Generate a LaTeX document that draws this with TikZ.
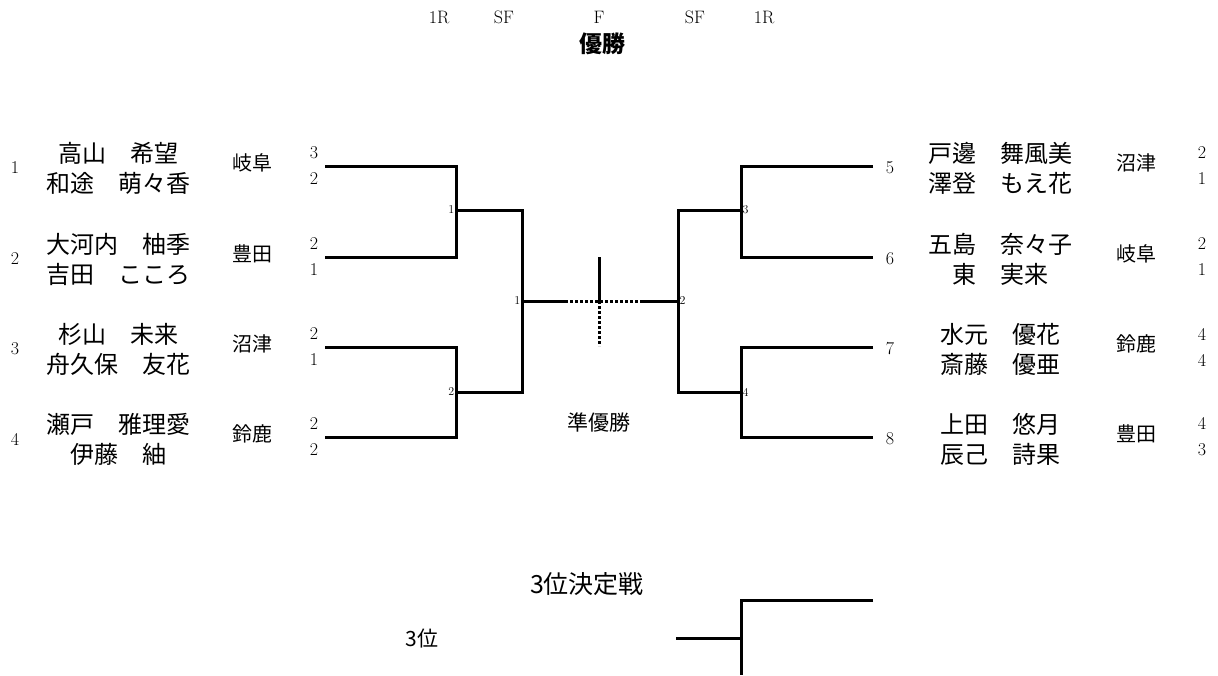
\documentclass[tikz,border=0pt]{standalone}
\usepackage{fontspec}
\newfontfamily\cjk{Noto Sans CJK JP}
\begin{document}
\begin{tikzpicture}[x=1pt, y=-1pt,
    bline/.style={line width=3pt},
    bdots/.style={line width=3pt, dash pattern=on 3pt off 2pt},
    plname/.style={font=\cjk\fontsize{24}{30}\selectfont, align=center},
    teamname/.style={font=\cjk\fontsize{20}{21}\selectfont},
    seedno/.style={font=\fontsize{18}{20}\selectfont},
    scoreno/.style={font=\fontsize{18}{26}\selectfont, align=center},
    matchno/.style={font=\fontsize{12}{13}\selectfont, inner sep=1.5pt},
    roundhead/.style={font=\fontsize{18}{19}\selectfont},
  ]
    \useasboundingbox (0,0) rectangle (1218,675);

    % round headers
    \node[roundhead] (h1) at (439,17) {1R};
    \node[roundhead] (h2) at (504,17) {SF};
    \node[roundhead] (h3) at (599,17) {F};
    \node[roundhead] (h4) at (695,17) {SF};
    \node[roundhead] (h5) at (764,17) {1R};
    \node[font=\cjk\bfseries\fontsize{23}{24}\selectfont] (win) at (602,44) {優勝};

    % left players
    \foreach \i/\y/\nm/\tm/\sa/\sb in {
        1/166/{高山　希望\\和途　萌々香}/岐阜/3/2,
        2/257/{大河内　柚季\\吉田　こころ}/豊田/2/1,
        3/347/{杉山　未来\\舟久保　友花}/沼津/2/1,
        4/437/{瀬戸　雅理愛\\伊藤　紬}/鈴鹿/2/2} {
      \node[seedno] (seed\i) at (15,\y+2) {\i};
      \node[plname] (name\i) at (118,\y+2) {\nm};
      \node[teamname] (team\i) at (252,\y-3) {\tm};
      \node[scoreno] (score\i) at (314,\y) {\sa\\\sb};
      \coordinate (p\i) at (325,\y);
    }

    % right players
    \foreach \i/\y/\nm/\tm/\sa/\sb in {
        5/166/{戸邊　舞風美\\澤登　もえ花}/沼津/2/1,
        6/257/{五島　奈々子\\東　実来}/岐阜/2/1,
        7/347/{水元　優花\\斎藤　優亜}/鈴鹿/4/4,
        8/437/{上田　悠月\\辰己　詩果}/豊田/4/3} {
      \node[seedno] (seed\i) at (890,\y+2) {\i};
      \node[plname] (name\i) at (1000,\y+2) {\nm};
      \node[teamname] (team\i) at (1136,\y-3) {\tm};
      \node[scoreno] (score\i) at (1202,\y) {\sa\\\sb};
      \coordinate (p\i) at (873,\y);
    }

    \coordinate (m1) at (456,210);
    \coordinate (m2) at (456,392);
    \coordinate (s1) at (522,301);
    \coordinate (m3) at (741,210);
    \coordinate (m4) at (741,392);
    \coordinate (s2) at (678,301);
    \coordinate (c) at (599,301);
    \coordinate (fl) at (565,301);
    \coordinate (fr) at (640,301);
    \coordinate (ct) at (599,257);
    \coordinate (cb) at (599,346);

    \draw[bline] (p1) -| (m1) |- (p2);
    \draw[bline] (p3) -| (m2) |- (p4);
    \draw[bline] (m1) -| (s1) |- (m2);
    \draw[bline] (p5) -| (m3) |- (p6);
    \draw[bline] (p7) -| (m4) |- (p8);
    \draw[bline] (m3) -| (s2) |- (m4);
    \draw[bline] (s1) -- (fl);
    \draw[bline] (fr) -- (s2);
    \draw[bline] (ct) -- (c);
    \draw[bdots] (fl) -- (fr);
    \draw[bdots] (c) -- (cb);

    \node[matchno, left] at (m1) {1};
    \node[matchno, left] at (m2) {2};
    \node[matchno, left] at (s1) {1};
    \node[matchno, right] at (s2) {2};
    \node[matchno, right] at (m3) {3};
    \node[matchno, right] at (m4) {4};

    \node[font=\cjk\fontsize{21}{22}\selectfont] (second) at (599,423) {準優勝};

    % third place
    \node[font=\cjk\fontsize{25}{26}\selectfont] (tp) at (587,584) {3位決定戦};
    \node[font=\cjk\fontsize{21}{22}\selectfont] (third) at (422,639) {3位};
    \coordinate (t0) at (676,638);
    \coordinate (t1) at (741,638);
    \coordinate (t2) at (873,600);
    \coordinate (tb) at (741,675);
    \draw[bline] (t0) -- (t1);
    \draw[bline] (t2) -| (tb);
\end{tikzpicture}
\end{document}
